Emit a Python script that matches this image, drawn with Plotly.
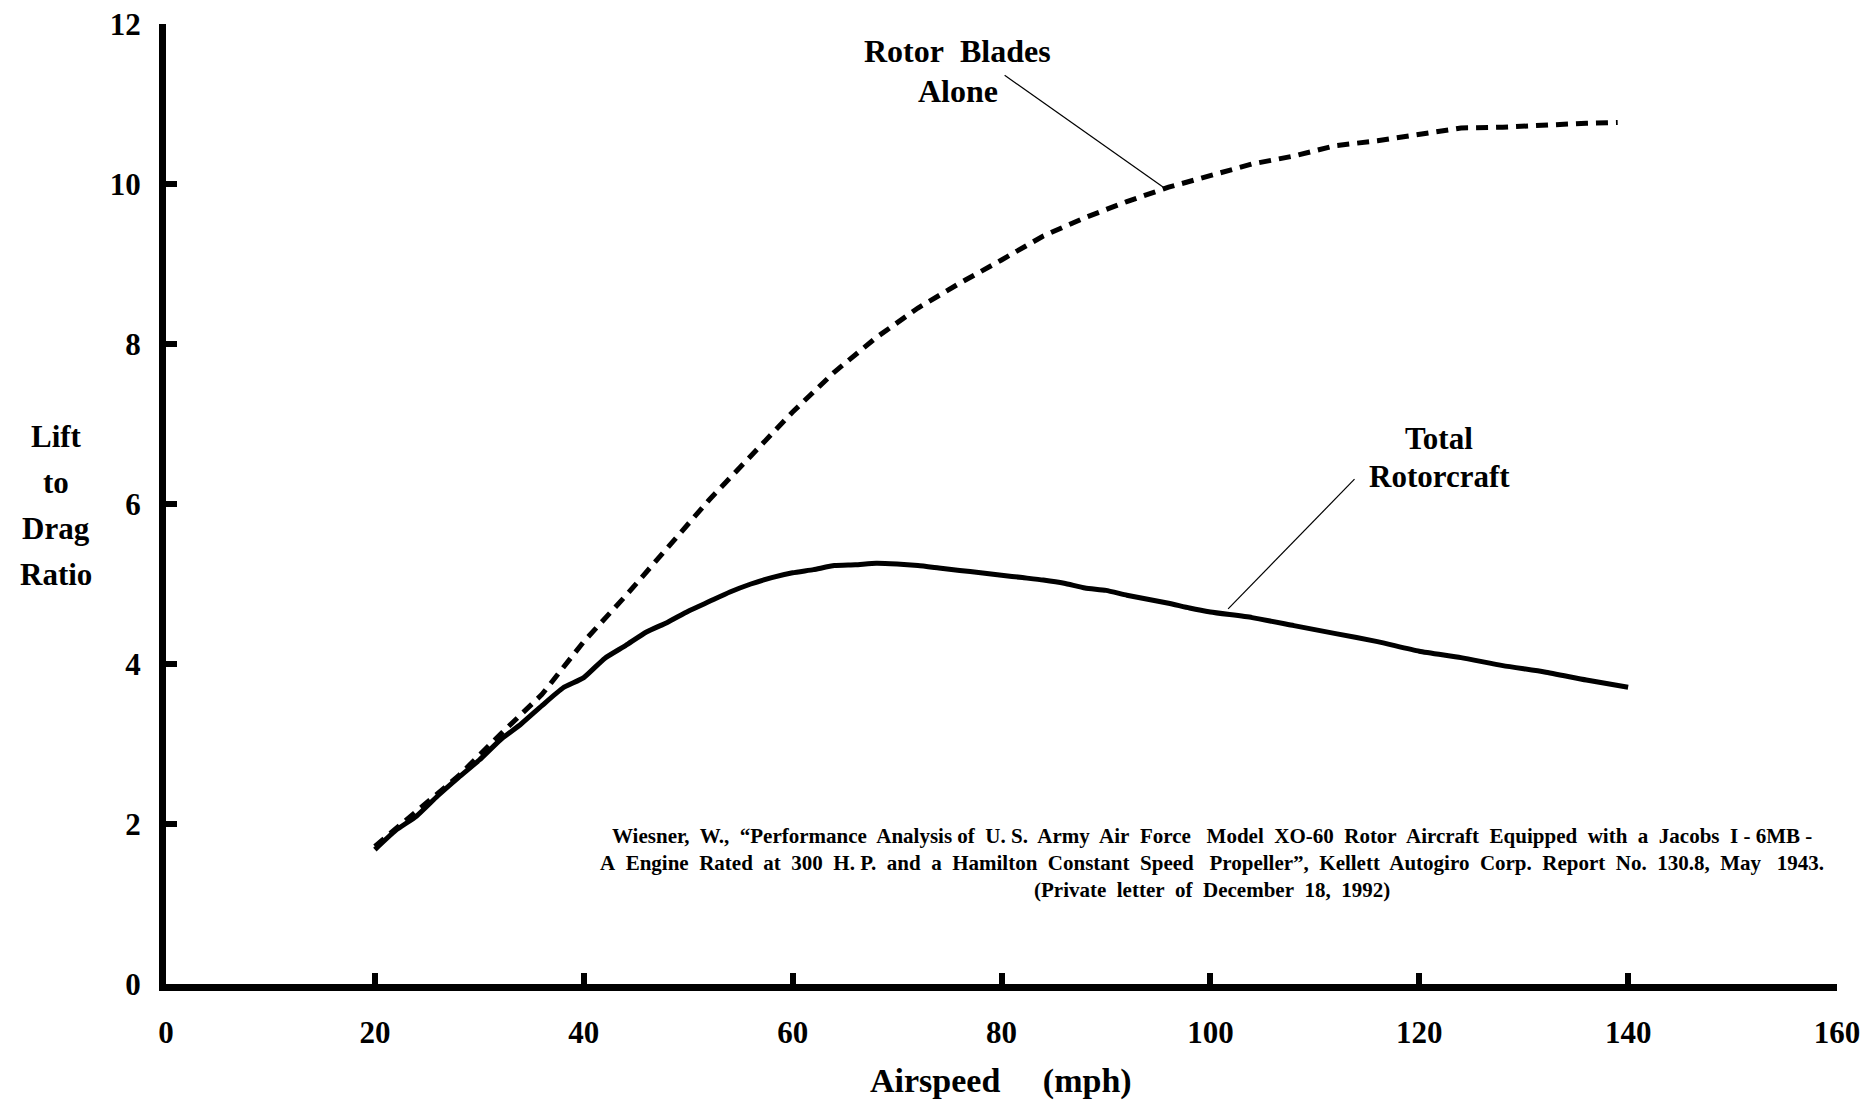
import plotly.graph_objects as go

# Airspeed (mph) and lift-to-drag ratio
total_x = [20, 22, 24, 26, 28, 30, 32, 34, 36, 38, 40, 42, 44, 46, 48, 50, 52, 54, 56, 58,
           60, 62, 64, 66, 68, 70, 72, 74, 76, 78, 80, 82, 84, 86, 88, 90, 92, 94, 96, 98,
           100, 104, 108, 112, 116, 120, 124, 128, 132, 136, 140]
total_y = [1.68, 1.92, 2.10, 2.35, 2.58, 2.80, 3.05, 3.25, 3.48, 3.70, 3.83, 4.07, 4.23, 4.40, 4.52,
           4.66, 4.78, 4.90, 5.00, 5.08, 5.14, 5.18, 5.23, 5.24, 5.26, 5.25, 5.23, 5.20, 5.17, 5.14,
           5.11, 5.08, 5.05, 5.01, 4.95, 4.92, 4.86, 4.81, 4.76, 4.70, 4.65, 4.58, 4.48, 4.38, 4.28,
           4.16, 4.08, 3.98, 3.90, 3.80, 3.71]

rotor_x = [20, 24, 28, 32, 36, 40, 44, 48, 52, 56, 60, 64, 68, 72, 76, 80, 84, 88, 92, 96,
           100, 104, 108, 112, 116, 120, 124, 128, 132, 136, 139]
rotor_y = [1.72, 2.15, 2.60, 3.12, 3.62, 4.28, 4.85, 5.45, 6.05, 6.60, 7.15, 7.65, 8.08, 8.45, 8.76,
           9.05, 9.35, 9.58, 9.78, 9.96, 10.10, 10.25, 10.35, 10.48, 10.54, 10.62, 10.70, 10.71,
           10.74, 10.76, 10.77]

x_ticks = [0, 20, 40, 60, 80, 100, 120, 140, 160]
y_ticks = [0, 2, 4, 6, 8, 10, 12]

FONT = "Liberation Serif"

fig = go.Figure()
fig.add_trace(go.Scatter(x=rotor_x, y=rotor_y, mode="lines",
                         line=dict(color="black", width=5, dash="12px,8px"),
                         showlegend=False, hoverinfo="skip"))
fig.add_trace(go.Scatter(x=total_x, y=total_y, mode="lines",
                         line=dict(color="black", width=5, shape="spline", smoothing=0.5),
                         showlegend=False, hoverinfo="skip"))

axis_common = dict(showline=True, linewidth=7, linecolor="black", showgrid=False,
                   zeroline=False, ticks="inside", ticklen=11, tickwidth=6, tickcolor="black",
                   ticklabeloverflow="allow", automargin=False,
                   tickfont=dict(family=FONT, size=31, color="black", weight="bold"))

fig.update_xaxes(range=[0, 160], tickvals=x_ticks, ticklabelstandoff=15, **axis_common)
fig.update_yaxes(range=[0, 12], tickvals=y_ticks, ticklabelstandoff=12, **axis_common)

anns = []
def txt(text, x, y, size, xref="x", yref="y", xanchor="center"):
    anns.append(dict(text=text, x=x, y=y, xref=xref, yref=yref, showarrow=False,
                     xanchor=xanchor, yanchor="middle",
                     font=dict(family=FONT, size=size, color="black")))

# page offset of the figure (default body margin) and plot area in page pixels
OFF = 8
L, R, T, B = 166, 1837, 24, 984

def px_x(px):  # page pixel -> paper
    return (px - L) / (R - L)
def px_y(py):
    return (B - py) / (B - T)

# axis titles
txt("<b>Airspeed\u00a0\u00a0\u00a0\u00a0\u00a0(mph)</b>", px_x(1001), px_y(1081), 34, "paper", "paper")
for i, w in enumerate(["Lift", "to", "Drag", "Ratio"]):
    txt(f"<b>{w}</b>", px_x(56), px_y(436 + 46.3 * i), 31, "paper", "paper")

# series labels
txt("<b>Rotor\u00a0\u00a0Blades</b>", 75.8, 11.66, 32)
txt("<b>Alone</b>", 75.8, 11.16, 32)
txt("<b>Total</b>", 121.9, 6.82, 31)
txt("<b>Rotorcraft</b>", 121.9, 6.34, 31)

# citation
cit = [
    "Wiesner,\u00a0 W.,\u00a0 \u201cPerformance\u00a0 Analysis\u00a0of\u00a0 U.\u00a0S.\u00a0 Army\u00a0 Air\u00a0 Force\u00a0\u00a0 Model\u00a0 XO-60\u00a0 Rotor\u00a0 Aircraft\u00a0 Equipped\u00a0 with\u00a0 a\u00a0 Jacobs\u00a0 I\u00a0-\u00a06MB\u00a0-",
    "A\u00a0 Engine\u00a0 Rated\u00a0 at\u00a0 300\u00a0 H.\u00a0P.\u00a0 and\u00a0 a\u00a0 Hamilton\u00a0 Constant\u00a0 Speed\u00a0\u00a0 Propeller\u201d,\u00a0 Kellett\u00a0 Autogiro\u00a0 Corp.\u00a0 Report\u00a0 No.\u00a0 130.8,\u00a0 May\u00a0\u00a0 1943.",
    "(Private\u00a0 letter\u00a0 of\u00a0 December\u00a0 18,\u00a0 1992)",
]
for i, line in enumerate(cit):
    txt(f"<b>{line}</b>", 100.2, 1.85 - 0.335 * i, 21)

W, H = 1853, 1096
fig.update_layout(
    width=W, height=H,
    margin=dict(l=L - OFF, r=W + OFF - R, t=T - OFF, b=H + OFF - B),
    paper_bgcolor="white", plot_bgcolor="white",
    annotations=anns,
    shapes=[
        dict(type="line", xref="x", yref="y", x0=80.3, y0=11.36, x1=95.7, y1=9.94,
             line=dict(color="black", width=1.2)),
        dict(type="line", xref="x", yref="y", x0=113.8, y0=6.31, x1=101.7, y1=4.69,
             line=dict(color="black", width=1.2)),
    ],
)

fig.write_html("out.html", config={"displayModeBar": False})
